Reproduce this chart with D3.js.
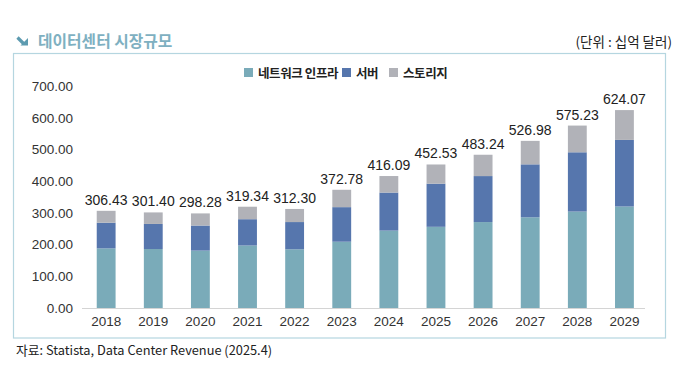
<!DOCTYPE html>
<html>
<head>
<meta charset="utf-8">
<script src="https://cdn.jsdelivr.net/npm/d3@7"></script>
<style>
body { margin: 0; background: #fff; }
svg text { font-family: "Liberation Sans", Arial, sans-serif; }
.kr { font-family: "Noto Sans CJK KR", "Noto Sans", sans-serif; }
</style>
</head>
<body>
<svg width="680" height="366"></svg>
<script>
var years = ["2018","2019","2020","2021","2022","2023","2024","2025","2026","2027","2028","2029"];
var totals = [306.43, 301.40, 298.28, 319.34, 312.30, 372.78, 416.09, 452.53, 483.24, 526.98, 575.23, 624.07];
var network = [188, 186, 181, 197, 185, 209, 244, 256, 271, 286, 304, 320];
var server = [81, 79, 79, 83, 86, 109, 120, 136, 145, 167, 187, 210];
var seriesNames = ["네트워크 인프라", "서버", "스토리지"];
var yTicks = [0, 100, 200, 300, 400, 500, 600, 700];

var colors = ["#7aabb9", "#5676ad", "#b1b2b8"];

var svg = d3.select("svg");

// rows for stacking, storage = remainder up to total
var rows = years.map(function(y, i) {
    return { year: y, n: network[i], s: server[i], t: totals[i] - network[i] - server[i], total: totals[i] };
});
var stack = d3.stack().keys(["n", "s", "t"])(rows);

var x = d3.scaleBand().domain(years).range([82.6, 648]).paddingInner(0.6).paddingOuter(0.3);
var y = d3.scaleLinear().domain([0, 700]).range([308, 86]);

// frame
svg.append("rect")
    .attr("x", 13.5).attr("y", 53.5).attr("width", 652).attr("height", 284.5)
    .attr("fill", "none").attr("stroke", "#b5d6e0").attr("stroke-width", 1.2);

// title
svg.append("line")
    .attr("x1", 17.5).attr("y1", 37.5).attr("x2", 23.5).attr("y2", 43.5)
    .attr("stroke", "#5d9bb0").attr("stroke-width", 3.2);
svg.append("path")
    .attr("d", "M28,38 L28,45.5 L20.5,45.5 Z")
    .attr("fill", "#5d9bb0");
svg.append("text").attr("class", "kr")
    .attr("x", 38).attr("y", 47)
    .attr("font-size", 15.8).attr("font-weight", "bold").attr("fill", "#7eb0c1")
    .text("데이터센터 시장규모");
svg.append("text").attr("class", "kr")
    .attr("x", 672).attr("y", 47).attr("text-anchor", "end")
    .attr("font-size", 13.5).attr("fill", "#222")
    .text("(단위 : 십억 달러)");

// y axis labels
svg.append("g").selectAll("text").data(yTicks).join("text")
    .attr("x", 73).attr("y", function(d) { return y(d); })
    .attr("dy", "0.36em").attr("text-anchor", "end")
    .attr("font-size", 13.5).attr("fill", "#333")
    .text(function(d) { return d3.format(".2f")(d); });

// bars
svg.append("g").selectAll("g").data(stack).join("g")
    .attr("fill", function(d, i) { return colors[i]; })
    .selectAll("rect").data(function(d) { return d; }).join("rect")
    .attr("x", function(d) { return x(d.data.year); })
    .attr("width", x.bandwidth())
    .attr("y", function(d) { return y(d[1]); })
    .attr("height", function(d) { return y(d[0]) - y(d[1]); });

// x axis line
svg.append("line")
    .attr("x1", 82).attr("x2", 645).attr("y1", 308.5).attr("y2", 308.5)
    .attr("stroke", "#d4d4d4");

svg.append("g").selectAll("text").data(years).join("text")
    .attr("x", function(d) { return x(d) + x.bandwidth() / 2; })
    .attr("y", 326).attr("text-anchor", "middle")
    .attr("font-size", 13.5).attr("fill", "#333")
    .text(function(d) { return d; });

// totals
svg.append("g").selectAll("text").data(rows).join("text")
    .attr("x", function(d) { return x(d.year) + x.bandwidth() / 2; })
    .attr("y", function(d) { return y(d.total) - 6; })
    .attr("text-anchor", "middle")
    .attr("font-size", 14).attr("fill", "#222")
    .text(function(d) { return d3.format(".2f")(d.total); });

// legend
var legX = [244, 342, 389];
var leg = svg.append("g").selectAll("g").data(seriesNames).join("g")
    .attr("transform", function(d, i) { return "translate(" + legX[i] + ",68)"; });
leg.append("rect").attr("width", 9).attr("height", 9)
    .attr("fill", function(d, i) { return colors[i]; });
leg.append("text").attr("class", "kr")
    .attr("x", 14).attr("y", 9.5)
    .attr("font-size", 12.5).attr("font-weight", "bold").attr("fill", "#222")
    .attr("letter-spacing", -0.4)
    .text(function(d) { return d; });

// source
svg.append("text").attr("class", "kr")
    .attr("x", 16).attr("y", 355)
    .attr("font-size", 12.8).attr("fill", "#222")
    .text("자료: Statista, Data Center Revenue (2025.4)");
</script>
</body>
</html>
